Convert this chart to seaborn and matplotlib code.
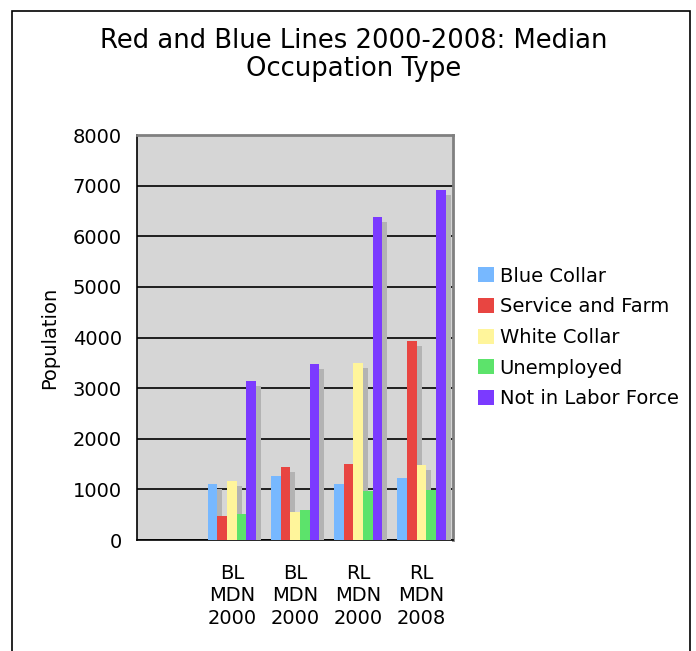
import pandas as pd
import seaborn as sns
import matplotlib.pyplot as plt
import matplotlib.patheffects as pe
from matplotlib.patches import Rectangle, Patch

# chart data
groups = ['g0', 'g1', 'g2', 'g3', 'g4']
group_labels = ['', 'BL\nMDN\n2000', 'BL\nMDN\n2000', 'RL\nMDN\n2000', 'RL\nMDN\n2008']
occupations = ['Blue Collar', 'Service and Farm', 'White Collar', 'Unemployed', 'Not in Labor Force']
blue_collar = [1115, 1255, 1115, 1215]
service_farm = [480, 1450, 1500, 3925]
white_collar = [1175, 560, 3490, 1490]
unemployed = [520, 600, 965, 985]
not_in_labor = [3150, 3470, 6380, 6915]
colors = ['#77b8ff', '#e84541', '#fff59b', '#5ce36b', '#7b3aff']

# long format, first slot has no data
rows = []
for occ, vals in zip(occupations, [blue_collar, service_farm, white_collar, unemployed, not_in_labor]):
    for g, v in zip(groups[1:], vals):
        rows.append({'Group': g, 'Occupation': occ, 'Population': v})
Data = pd.DataFrame(rows)

sns.set_style('white')
plt.rcParams['font.family'] = ['DejaVu Sans']
plt.rcParams['text.color'] = 'black'
plt.rcParams['axes.labelcolor'] = 'black'
plt.rcParams['xtick.color'] = 'black'
plt.rcParams['ytick.color'] = 'black'

fig = plt.figure(figsize=(6.96, 6.51), dpi=100)
ax = fig.add_axes([0.197, 0.1705, 0.454, 0.6221])
ax.set_facecolor('#d6d6d6')

sns.barplot(data=Data, x='Group', y='Population', hue='Occupation', order=groups,
            hue_order=occupations, palette=colors, width=0.76, gap=0, ax=ax,
            saturation=1, errorbar=None, edgecolor='none', linewidth=0, zorder=3, legend=False)

for bar in ax.patches:
    bar.set_path_effects([pe.SimplePatchShadow(offset=(3.6, -3.6), shadow_rgbFace='#b3b3b3', alpha=1),
                          pe.Normal()])

ax.set_ylim(0, 8000)
ax.set_xlim(-0.5, 4.5)
ax.set_yticks(range(0, 8001, 1000))
ax.yaxis.grid(True, color='black', linewidth=1.2, zorder=1)
ax.set_axisbelow(True)

ax.set_xticks(range(5))
ax.set_xticklabels(group_labels, fontsize=14, linespacing=1.25)
ax.set_xticks([i - 0.5 for i in range(6)], minor=True)
ax.tick_params(axis='x', which='major', length=0, pad=17)
ax.tick_params(axis='x', which='minor', length=5, width=1, color='black', direction='out')
ax.tick_params(axis='y', length=7, width=1, color='black', direction='out', labelsize=14, pad=4)
ax.set_xlabel('')
ax.set_ylabel('Population', fontsize=14, labelpad=10)

for side in ['top', 'right']:
    ax.spines[side].set_color('#808080')
    ax.spines[side].set_linewidth(2)
for side in ['left', 'bottom']:
    ax.spines[side].set_color('black')
    ax.spines[side].set_linewidth(1.2)

fig.text(354 / 696, 1 - 55 / 651, 'Red and Blue Lines 2000-2008: Median\nOccupation Type',
         ha='center', va='center', fontsize=18.6, linespacing=1.08)

handles = [Patch(facecolor=c, edgecolor='none') for c in colors]
ax.legend(handles, occupations, loc='center left', bbox_to_anchor=(1.054, 0.5), frameon=False,
          fontsize=14, handlelength=0.82, handleheight=0.82, handletextpad=0.3, labelspacing=0.6,
          borderaxespad=0)

fig.patches.append(Rectangle((12 / 696, -0.05), 678 / 696, 1.05 - 11 / 651, transform=fig.transFigure,
                             fill=False, edgecolor='black', linewidth=1.2))

plt.savefig('out.png', dpi=100)
